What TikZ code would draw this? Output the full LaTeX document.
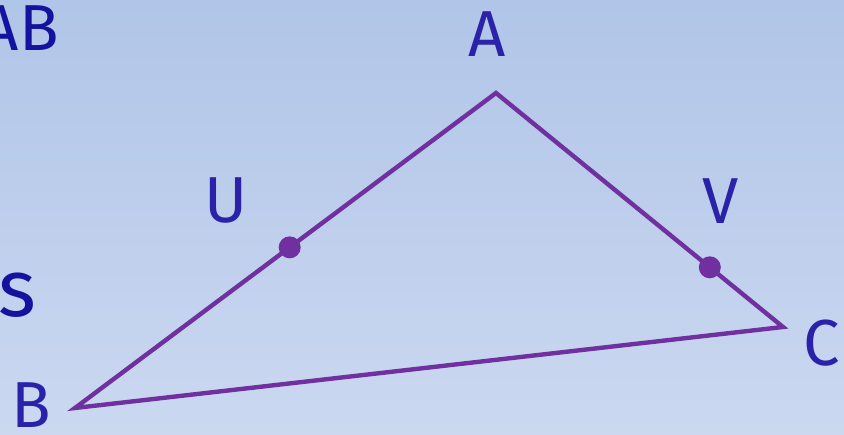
\documentclass[tikz,border=0pt]{standalone}
\usepackage{fontspec}
\setmainfont{Fira Sans}
\usepackage{xcolor}
\usetikzlibrary{positioning, calc}

\definecolor{bgtop}{HTML}{B1C5E8}
\definecolor{bgbot}{HTML}{CBD8F0}
\definecolor{lbl}{HTML}{2A23A9}
\definecolor{lbldark}{HTML}{13139F}
\definecolor{edge}{HTML}{7030A0}

\begin{document}
\begin{tikzpicture}[
  lab/.style={inner sep=0pt, text=lbl, font=\fontsize{37}{40}\selectfont},
  cut/.style={inner sep=0pt, text=lbldark, font=\fontsize{37}{40}\selectfont},
  side/.style={edge, line width=2.5pt, line join=miter},
  pt/.style={circle, fill=edge, inner sep=0pt, minimum size=0.44cm}
]
  \useasboundingbox (0,0) rectangle (16.88,8.70);
  \clip (0,0) rectangle (16.88,8.70);
  \shade[top color=bgtop, bottom color=bgbot] (0,0) rectangle (16.88,8.70);

  % corners
  \coordinate (a) at (9.92,6.84);
  \coordinate (b) at (1.50,0.54);
  \coordinate (c) at (15.66,2.16);

  \draw[side] (a) -- (b) -- (c) -- cycle;

  \node[pt] (u) at ($(a)!0.49!(b)$) {};
  \node[pt] (v) at ($(a)!0.745!(c)$) {};

  % labels
  \node[lab] (la) at (9.74,8.02) {A};
  \node[lab] (lb) at (0.62,0.60) {B};
  \node[lab] (lc) at (16.44,1.84) {C};
  \node[lab] (lu) at (4.52,4.68) {U};
  \node[lab] (lv) at (14.42,4.68) {V};

  % text cut off at the left edge
  \node[cut, anchor=east] (ab) at (1.18,8.14) {\kern0.1em AB};
  \node[cut, anchor=east, font=\fontsize{46}{50}\selectfont] (s) at (0.74,2.80) {s};
\end{tikzpicture}
\end{document}
